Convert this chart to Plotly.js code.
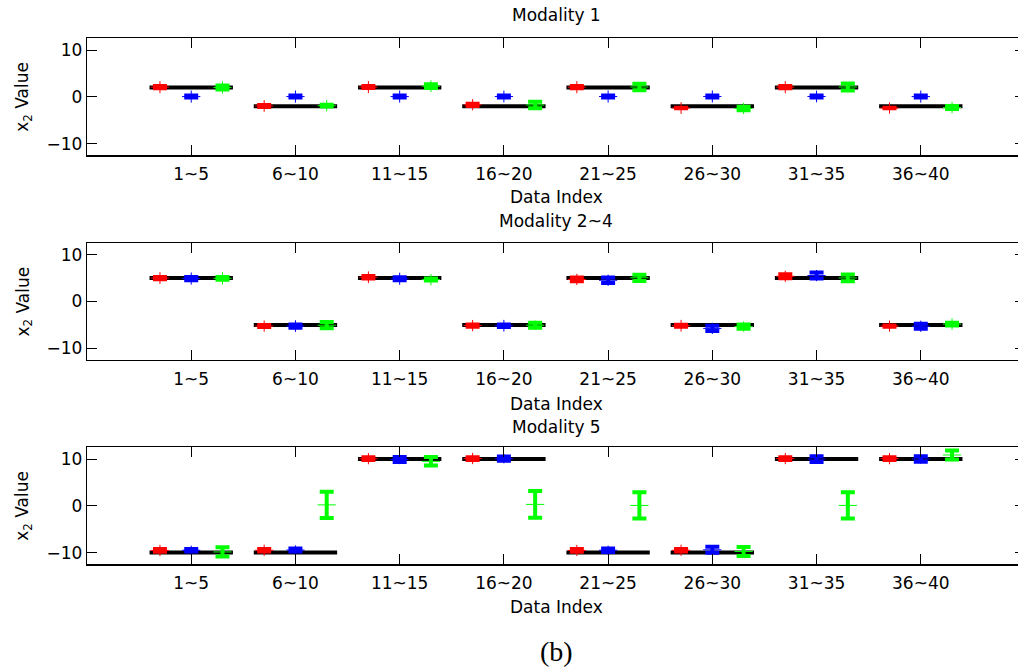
<!DOCTYPE html>
<html>
<head>
<meta charset="utf-8">
<script src="https://cdn.plot.ly/plotly-3.0.1.min.js"></script>
<style>
  html, body { margin: 0; padding: 0; overflow: hidden; background: #fff; }
  #chart { width: 1040px; height: 669px; }
</style>
</head>
<body>
<div id="chart"></div>
<script>
// ---------- data ----------
const groups = [1, 2, 3, 4, 5, 6, 7, 8];
const groupLabels = ['1~5', '6~10', '11~15', '16~20', '21~25', '26~30', '31~35', '36~40'];
const panelTitles = ['Modality 1', 'Modality 2~4', 'Modality 5'];
const xLabel = 'Data Index';
const yLabel = 'x<sub>2</sub> Value';
const yTicks = [-10, 0, 10];

// Modality 1
const m1Truth       = [2, -2, 2, -2, 2, -2, 2, -2];
const m1RedMean     = [2.06, -1.95, 2.08, -1.7, 2.06, -2.4, 2.06, -2.4];
const m1RedSd       = [0.24, 0.21, 0.21, 0.24, 0.24, 0.05, 0.24, 0.07];
const m1RedSpread   = [1.3, 1.25, 1.3, 1.2, 1.3, 1.25, 1.3, 1.2];
const m1BlueMean    = [0.05, 0.05, 0.05, 0.07, 0.07, 0.07, 0.07, 0.05];
const m1BlueSd      = [0.21, 0.21, 0.21, 0.21, 0.21, 0.21, 0.21, 0.21];
const m1BlueSpread  = [1.3, 1.3, 1.3, 1.25, 1.3, 1.3, 1.25, 1.3];
const m1GreenMean   = [2.0, -1.9, 2.27, -1.75, 2.1, -2.5, 2.1, -2.3];
const m1GreenSd     = [0.43, 0.18, 0.39, 0.71, 0.71, 0.35, 0.74, 0.32];
const m1GreenSpread = [1.3, 1.2, 1.25, 1.0, 1.0, 1.2, 1.0, 1.2];

// Modality 2~4
const m2Truth       = [5, -5, 5, -5, 5, -5, 5, -5];
const m2RedMean     = [5.0, -5.25, 5.18, -5.14, 4.71, -5.18, 5.39, -5.25];
const m2RedSd       = [0.25, 0.21, 0.29, 0.25, 0.4, 0.21, 0.43, 0.14];
const m2RedSpread   = [1.25, 1.2, 1.25, 1.2, 1.2, 1.25, 1.2, 1.2];
const m2BlueMean    = [4.9, -5.25, 4.86, -5.18, 4.54, -5.75, 5.54, -5.29];
const m2BlueSd      = [0.35, 0.35, 0.32, 0.29, 0.57, 0.57, 0.64, 0.54];
const m2BlueSpread  = [1.3, 1.25, 1.3, 1.25, 1.2, 1.2, 1.2, 1.2];
const m2GreenMean   = [4.95, -5.07, 4.68, -5.07, 5.07, -5.36, 5.04, -4.82];
const m2GreenSd     = [0.29, 0.67, 0.21, 0.54, 0.67, 0.46, 0.71, 0.29];
const m2GreenSpread = [1.3, 1.0, 1.2, 1.0, 1.0, 1.1, 1.0, 1.2];

// Modality 5
const m3Truth       = [-10, -10, 10, 10, -10, -10, 10, 10];
const m3RedMean     = [-9.54, -9.5, 10.07, 10.1, -9.54, -9.5, 10.1, 10.07];
const m3RedSd       = [0.29, 0.29, 0.29, 0.29, 0.29, 0.29, 0.29, 0.29];
const m3RedSpread   = [1.2, 1.2, 1.2, 1.2, 1.2, 1.2, 1.2, 1.2];
const m3BlueMean    = [-9.5, -9.45, 9.9, 10.07, -9.5, -9.4, 9.98, 10.0];
const m3BlueSd      = [0.25, 0.32, 0.54, 0.46, 0.36, 0.64, 0.6, 0.6];
const m3BlueSpread  = [1.0, 1.0, 1.0, 1.0, 1.0, 1.0, 1.0, 1.0];
const m3GreenMean   = [-9.86, 0.2, 9.5, 0.3, 0.08, -9.75, 0.08, 10.86];
const m3GreenSd     = [0.98, 2.8, 0.91, 2.84, 2.82, 0.96, 2.82, 0.96];
const m3GreenSpread = [0.6, 0.6, 0.6, 0.6, 0.6, 0.6, 0.6, 0.6];

// ---------- style ----------
const FONT = 'DejaVu Sans, Arial, sans-serif';
const FS = 17;
const RED = '#ff0000', BLUE = '#0000ff', GREEN = '#00ff00';
const OFF = { red: -0.3, blue: 0, green: 0.3 };
const HALF = 0.4;

const panels = [
  { truth: m1Truth, series: [
      [RED, OFF.red, m1RedMean, m1RedSd, m1RedSpread],
      [BLUE, OFF.blue, m1BlueMean, m1BlueSd, m1BlueSpread],
      [GREEN, OFF.green, m1GreenMean, m1GreenSd, m1GreenSpread]] },
  { truth: m2Truth, series: [
      [RED, OFF.red, m2RedMean, m2RedSd, m2RedSpread],
      [BLUE, OFF.blue, m2BlueMean, m2BlueSd, m2BlueSpread],
      [GREEN, OFF.green, m2GreenMean, m2GreenSd, m2GreenSpread]] },
  { truth: m3Truth, series: [
      [RED, OFF.red, m3RedMean, m3RedSd, m3RedSpread],
      [BLUE, OFF.blue, m3BlueMean, m3BlueSd, m3BlueSpread],
      [GREEN, OFF.green, m3GreenMean, m3GreenSd, m3GreenSpread]] }
];

// pixel layout (height 669, margins 0 top/bottom)
const H = 669;
const panelPx = [[38.3, 155.3], [243, 360], [447.3, 564.3]];
const titlePx = [15, 221, 427];
const xlabPx = [197.5, 403.5, 606.5];
const frac = y => 1 - y / H;

const traces = [];
const annotations = [];
const layout = {
  width: 1040, height: H,
  margin: { l: 87, r: 15, t: 0, b: 0 },
  paper_bgcolor: '#fff', plot_bgcolor: '#fff',
  showlegend: false,
  font: { family: FONT, size: FS, color: '#000' },
  annotations: annotations
};

panels.forEach((p, i) => {
  const n = i === 0 ? '' : String(i + 1);
  const xa = 'x' + n, ya = 'y' + n;
  // truth lines
  const lx = [], ly = [];
  groups.forEach((g, k) => { lx.push(g - HALF, g + HALF, null); ly.push(p.truth[k], p.truth[k], null); });
  traces.push({ x: lx, y: ly, xaxis: xa, yaxis: ya, mode: 'lines',
    line: { color: '#000', width: 4 }, hoverinfo: 'skip' });
  p.series.forEach(([col, off, mean, sd, spread]) => {
    const xs = groups.map(g => g + off);
    // thin whisker
    traces.push({ x: xs, y: mean, xaxis: xa, yaxis: ya, mode: 'markers',
      marker: { size: 1, color: col },
      error_y: { type: 'data', array: spread, visible: true, color: col, thickness: 1, width: 0 } });
    // thick bar + mean tick
    traces.push({ x: xs, y: mean, xaxis: xa, yaxis: ya, mode: 'markers',
      marker: { symbol: 'line-ew', size: 13, color: col, line: { color: col, width: 1 } },
      error_y: { type: 'data', array: sd, visible: true, color: col, thickness: 4, width: 7 } });
  });
  const yd = [frac(panelPx[i][1]), frac(panelPx[i][0])];
  layout['xaxis' + n] = {
    domain: [0, 1], anchor: ya, range: [0, 9],
    tickmode: 'array', tickvals: groups, ticktext: groupLabels,
    ticks: 'inside', ticklen: 10, tickwidth: 1, tickcolor: '#000',
    ticklabelstandoff: 3,
    showline: true, linecolor: '#000', linewidth: 1.3, mirror: 'ticks',
    showgrid: false, zeroline: false,
    tickfont: { family: FONT, size: FS, color: '#000' }
  };
  layout['yaxis' + n] = {
    domain: yd, anchor: xa, range: [-12.5, 12.5],
    tickmode: 'array', tickvals: yTicks,
    ticks: 'inside', ticklen: 10, tickwidth: 1, tickcolor: '#000',
    showline: true, linecolor: '#000', linewidth: 1.3, mirror: 'ticks',
    showgrid: false, zeroline: false,
    tickfont: { family: FONT, size: FS, color: '#000' }
  };
  annotations.push({ text: panelTitles[i], xref: 'paper', yref: 'paper', x: 0.5, y: frac(titlePx[i]),
    xanchor: 'center', yanchor: 'middle', showarrow: false, font: { family: FONT, size: FS, color: '#000' } });
  annotations.push({ text: xLabel, xref: 'paper', yref: 'paper', x: 0.5, y: frac(xlabPx[i]),
    xanchor: 'center', yanchor: 'middle', showarrow: false, font: { family: FONT, size: FS, color: '#000' } });
  annotations.push({ text: yLabel, xref: 'paper', yref: 'paper', x: (24 - 87) / 938, y: (yd[0] + yd[1]) / 2,
    xanchor: 'center', yanchor: 'middle', textangle: -90, showarrow: false, font: { family: FONT, size: FS, color: '#000' } });
});

annotations.push({ text: '(b)', xref: 'paper', yref: 'paper', x: 0.5, y: frac(651),
  xanchor: 'center', yanchor: 'middle', showarrow: false,
  font: { family: 'Liberation Serif, DejaVu Serif, serif', size: 28, color: '#000' } });

Plotly.newPlot('chart', traces, layout, { staticPlot: true, displayModeBar: false });
</script>
</body>
</html>
